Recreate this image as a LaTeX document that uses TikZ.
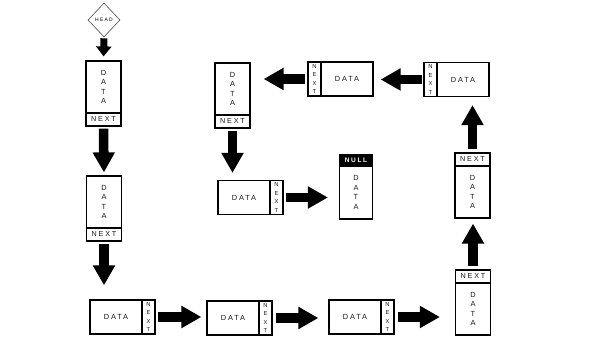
\documentclass[tikz,border=0pt]{standalone}
\usepackage{fontspec}
\setmainfont{Liberation Sans}
\newfontfamily\lbl[LetterSpace=25]{Liberation Sans}
\usetikzlibrary{arrows.meta,shapes.geometric}
\begin{document}
\begin{tikzpicture}[x=1pt,y=-1pt,
  part/.style={draw, line width=1.2pt, inner sep=0pt, align=center, text=black!90},
  dpart/.style={part, font=\lbl\fontsize{7.4}{9.5}\selectfont},
  vdata/.style={dpart, minimum width=35pt, minimum height=52pt},
  hdata/.style={dpart, minimum width=52pt, minimum height=34pt},
  vnext/.style={part, font=\lbl\fontsize{7.2}{7}\selectfont, minimum width=35pt, minimum height=13pt},
  hnext/.style={part, font=\lbl\fontsize{5.8}{8.6}\selectfont, minimum width=13pt, minimum height=34pt},
  blk/.style={line width=9.5pt, -{Triangle[length=20pt,width=21pt]}},
  smallblk/.style={line width=7pt, -{Triangle[length=10pt,width=15pt]}}
]
\useasboundingbox (0,0) rectangle (600,344);

% HEAD
\node[diamond, draw=black!70, line width=0.6pt, minimum width=32pt, minimum height=34pt, inner sep=0pt,
      font=\lbl\fontsize{5}{5}\selectfont] (head) at (104,20) {HEAD};

% E1 vertical
\node[vdata] (E1d) at (103.5,87) {D\\A\\T\\A};
\node[vnext] (E1n) at (103.5,119.5) {NEXT};
% E2 vertical
\node[vdata] (E2d) at (104,202) {D\\A\\T\\A};
\node[vnext] (E2n) at (104,234.5) {NEXT};
% E3 horizontal
\node[hdata] (E3d) at (116,317) {DATA};
\node[hnext] (E3n) at (148.5,317) {N\\E\\X\\T};
% E4
\node[hdata] (E4d) at (233,318) {DATA};
\node[hnext] (E4n) at (265.5,318) {N\\E\\X\\T};
% E5
\node[hdata] (E5d) at (355,317) {DATA};
\node[hnext] (E5n) at (387.5,317) {N\\E\\X\\T};
% E6 vertical, NEXT on top
\node[vnext] (E6n) at (473,276.5) {NEXT};
\node[vdata] (E6d) at (473,309) {D\\A\\T\\A};
% E7
\node[vnext] (E7n) at (472.5,159.5) {NEXT};
\node[vdata] (E7d) at (472.5,192) {D\\A\\T\\A};
% E8 horizontal, NEXT on left
\node[hnext] (E8n) at (430.5,79.5) {N\\E\\X\\T};
\node[hdata] (E8d) at (463,79.5) {DATA};
% E9
\node[hnext] (E9n) at (314.5,79) {N\\E\\X\\T};
\node[hdata] (E9d) at (347,79) {DATA};
% E10 vertical
\node[vdata] (E10d) at (232.5,89) {D\\A\\T\\A};
\node[vnext] (E10n) at (232.5,121.5) {NEXT};
% E11 horizontal
\node[hdata] (E11d) at (244,197.5) {DATA};
\node[hnext] (E11n) at (276.5,197.5) {N\\E\\X\\T};
% NULL
\node[part, fill=black, text=white, minimum width=33pt, minimum height=11pt,
      font=\lbl\bfseries\fontsize{6.5}{7}\selectfont] (NULLn) at (356,160.5) {NULL};
\node[dpart, minimum width=33pt, minimum height=53pt] (NULLd) at (356,192.5) {D\\A\\T\\A};

% arrows
\draw[smallblk, shorten <=1pt, shorten >=4pt] (head.south) -- (E1d.north);
\draw[blk, shorten <=2pt, shorten >=3pt] (E1n.south) -- (E2d.north);
\draw[blk, shorten <=2pt, shorten >=14pt] (E2n.south) -- (E2n.south |- E3d.north);
\draw[blk, shorten <=2pt, shorten >=5pt] (E3n.east) -- (E3n.east -| E4d.west);
\draw[blk, shorten <=3pt, shorten >=10pt] (E4n.east) -- (E4n.east -| E5d.west);
\draw[blk, shorten <=3pt, shorten >=15pt] (E5n.east) -- (E5n.east -| E6n.west);
\draw[blk, shorten <=3pt, shorten >=5pt] (E6n.north) -- (E6n.north |- E7d.south);
\draw[blk, shorten <=3pt, shorten >=8pt] (E7n.north) -- (E7n.north |- E8d.south);
\draw[blk, shorten <=1pt, shorten >=7pt] (E8n.west) -- (E8n.west -| E9d.east);
\draw[blk, shorten <=2pt, shorten >=13pt] (E9n.west) -- (E9n.west -| E10d.east);
\draw[blk, shorten <=2pt, shorten >=7pt] (E10n.south) -- (E10n.south |- E11d.north);
\draw[blk, shorten <=2pt, shorten >=11pt] (E11n.east) -- (E11n.east -| NULLd.west);
\end{tikzpicture}
\end{document}
